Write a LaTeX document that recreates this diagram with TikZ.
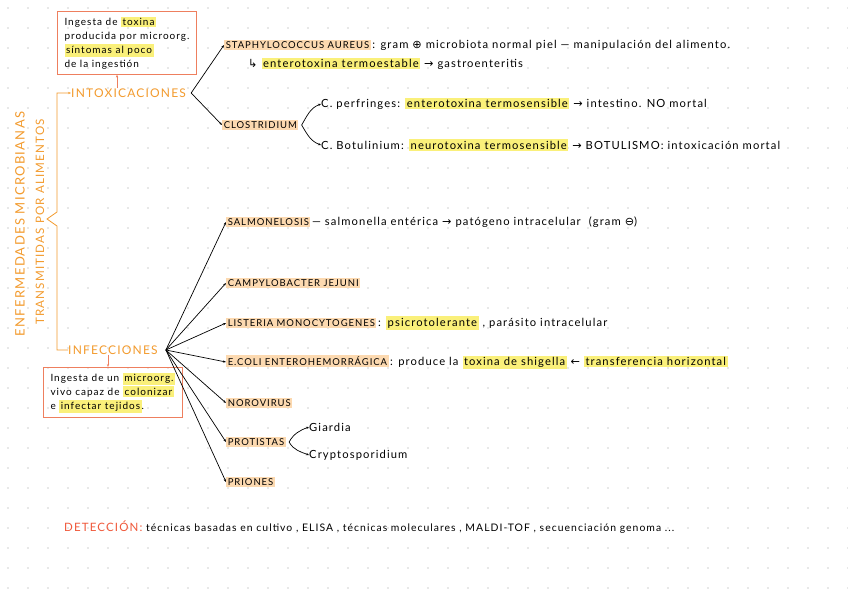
\documentclass[tikz,border=0pt]{standalone}
\usepackage{fontspec}
\setmainfont[LetterSpace=10]{Lato}
\newfontfamily\symf{DejaVu Sans}
\usetikzlibrary{arrows.meta, positioning, calc}

\newcommand{\hlp}[1]{{\setlength{\fboxsep}{1.6pt}\colorbox{peach}{#1}}}
\newcommand{\hly}[1]{{\setlength{\fboxsep}{1.5pt}\colorbox{hiy}{#1}}}

\begin{document}
\begin{tikzpicture}[
    x=1pt, y=-1pt,
    every node/.style={font=\fontsize{11.2}{13}\selectfont, inner sep=0pt},
    txt/.style={anchor=west},
    caplabel/.style={anchor=west, font=\fontsize{9.5}{11}\selectfont},
    title/.style={anchor=west, text=orng, font=\fontsize{12}{14}\selectfont},
    notebox/.style={draw=salmon, line width=1pt, anchor=north west, align=left,
      inner xsep=7pt, inner ysep=5pt, font=\fontsize{10}{14}\selectfont},
    arr/.style={-{Stealth[length=3pt]}, line width=0.7pt},
    arrO/.style={-{Stealth[length=3pt]}, line width=0.7pt, salmon},
  ]
  \definecolor{orng}{HTML}{F39B2E}
  \definecolor{salmon}{HTML}{EE7F5E}
  \definecolor{peach}{HTML}{FCD9B0}
  \definecolor{hiy}{HTML}{FAF07A}
  \definecolor{redo}{HTML}{F0583A}
  \definecolor{dotc}{gray}{0.82}

  \useasboundingbox (0,0) rectangle (848,600);
  \fill[white] (0,0) rectangle (848,600);
  \foreach \x in {8,28,...,848}
    \foreach \y in {8,28,...,600}
      \fill[dotc] (\x,\y) circle (0.8);

  % title, rotated
  \node[rotate=90, text=orng, font=\fontsize{13}{15}\selectfont] (titA) at (20,224)
    {ENFERMEDADES MICROBIANAS};
  \node[rotate=90, text=orng, font=\fontsize{11.6}{14}\selectfont] (titB) at (40,222)
    {TRANSMITIDAS POR ALIMENTOS};

  % intoxicaciones
  \node[title] (intox) at (71,93) {INTOXICACIONES};
  \node[notebox] (boxTop) at (57,11)
    {Ingesta de \hly{toxina}\\producida por microorg.\\\hly{síntomas al poco}\\de la ingestión};

  \node[caplabel] (staph) at (224,45)
    {\hlp{STAPHYLOCOCCUS AUREUS}\,{\fontsize{11.2}{13}\selectfont: gram {\symf ⊕} microbiota normal piel — manipulación del alimento.}};
  \node[txt] (entero) at (248,64)
    {{\symf ↳} \hly{enterotoxina termoestable} {\symf →} gastroenteritis};
  \node[caplabel] (clos) at (222,125) {\hlp{CLOSTRIDIUM}};
  \node[txt] (perf) at (321,104)
    {C. perfringes: \hly{enterotoxina termosensible} {\symf →} intestino. NO mortal};
  \node[txt] (botu) at (321,145)
    {C. Botulinium: \hly{neurotoxina termosensible} {\symf →} BOTULISMO: intoxicación mortal};

  % infecciones
  \node[title] (infec) at (68,350) {INFECCIONES};
  \node[notebox] (boxInf) at (43,367)
    {Ingesta de un \hly{microorg.}\\vivo capaz de \hly{colonizar}\\e \hly{infectar tejidos}.};

  \node[caplabel] (salm) at (226,222)
    {\hlp{SALMONELOSIS}\,{\fontsize{11.2}{13}\selectfont — salmonella entérica {\symf →} patógeno intracelular \ (gram {\symf ⊖})}};
  \node[caplabel] (campy) at (226,283) {\hlp{CAMPYLOBACTER JEJUNI}};
  \node[caplabel] (list) at (226,323)
    {\hlp{LISTERIA MONOCYTOGENES}\,{\fontsize{11.2}{13}\selectfont: \hly{psicrotolerante} , parásito intracelular}};
  \node[caplabel] (ecoli) at (226,362)
    {\hlp{E.COLI ENTEROHEMORRÁGICA}\,{\fontsize{11.2}{13}\selectfont: produce la \hly{toxina de shigella} {\symf ←} \hly{transferencia horizontal}}};
  \node[caplabel] (noro) at (226,403) {\hlp{NOROVIRUS}};
  \node[caplabel] (prot) at (226,442) {\hlp{PROTISTAS}};
  \node[txt] (giar) at (309,427) {Giardia};
  \node[txt] (cryp) at (309,455) {Cryptosporidium};
  \node[caplabel] (prio) at (226,482) {\hlp{PRIONES}};

  % deteccion
  \node[txt, font=\fontsize{10.4}{12}\selectfont] (detec) at (64,527)
    {{\color{redo}\fontsize{11.5}{12}\selectfont DETECCIÓN:} técnicas basadas en cultivo , ELISA , técnicas moleculares , MALDI-TOF , secuenciación genoma ...};

  % bracket of the title
  \coordinate (mid) at (57,219);
  \draw[orng, line width=0.8pt, -{Stealth[length=3pt]}]
    (infec.west) -| ($(mid)+(0,7)$) -- ($(mid)+(-10,0)$) -- ($(mid)+(0,-7)$) |- (intox.west);

  % notes
  \draw[arrO] ([xshift=46pt]intox.north west) -- ([xshift=46pt]intox.north west |- boxTop.south);
  \draw[arrO] ([xshift=40pt]infec.south west) -- ([xshift=40pt]infec.south west |- boxInf.north);

  % branches
  \coordinate (intoxB) at ([xshift=5pt]intox.east);
  \draw[arr] (intoxB) -- (staph.west);
  \draw[arr] (intoxB) -- (clos.west);
  \coordinate (closB) at ([xshift=3pt]clos.east);
  \draw[arr] (closB) to[out=60, in=200] (perf.west);
  \draw[arr] (closB) to[out=-60, in=160] (botu.west);

  \coordinate (infecB) at ([xshift=8pt]infec.east);
  \foreach \n in {salm, campy, list, ecoli, noro, prot, prio}
    \draw[arr] (infecB) -- (\n.west);
  \coordinate (protB) at ([xshift=3pt]prot.east);
  \draw[arr] (protB) to[out=60, in=200] (giar.west);
  \draw[arr] (protB) to[out=-60, in=160] (cryp.west);
\end{tikzpicture}
\end{document}
